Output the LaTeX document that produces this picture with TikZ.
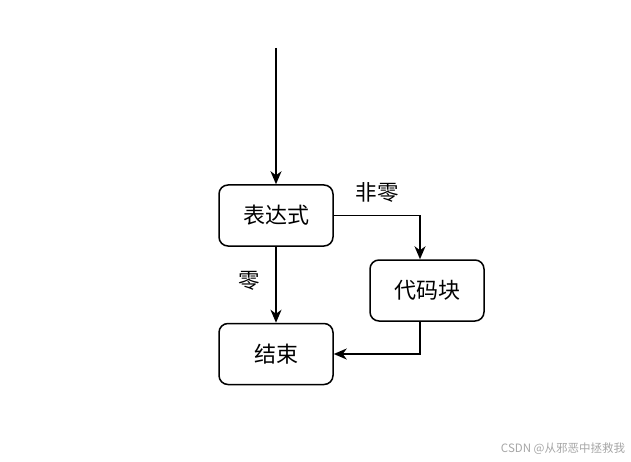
\documentclass[tikz,border=0pt]{standalone}
\usepackage{fontspec}
\newfontfamily\cjk{Noto Sans CJK SC}
\usetikzlibrary{calc,arrows.meta}

\begin{document}
\begin{tikzpicture}[x=1pt,y=1pt,
  box/.style={draw,line width=1.5pt,rounded corners=9pt,minimum width=114pt,
    minimum height=61pt,inner sep=0pt,font=\cjk\fontsize{22}{26}\selectfont},
  lbl/.style={font=\cjk\fontsize{21.5}{26}\selectfont},
  flow/.style={line width=1.5pt,-{Stealth[length=13pt,width=11pt,inset=4pt]}}]

\useasboundingbox (0,0) rectangle (631,461);

% Blocks
\node[box] (expr) at (276,245.5) {表达式};
\node[box] (code) at (427,170.5) {代码块};
\node[box] (stop) at (276,107) {结束};
\coordinate (start) at (276,413);

% Connectors
\draw[flow] (start) -- (expr.north);
\draw[flow] (expr.south) -- (stop.north);
\draw[flow] (expr.east) -| ([xshift=-7pt]code.north);
\draw[flow] ([xshift=-7pt]code.south) |- (stop.east);

% Labels
\node[lbl] (zero) at (249,180) {零};
\node[lbl] (nonzero) at (377,269) {非零};
\node[font=\cjk\fontsize{11.5}{13}\selectfont,text=black!35] (mark) at (563,12) {CSDN @从邪恶中拯救我};

\end{tikzpicture}
\end{document}
